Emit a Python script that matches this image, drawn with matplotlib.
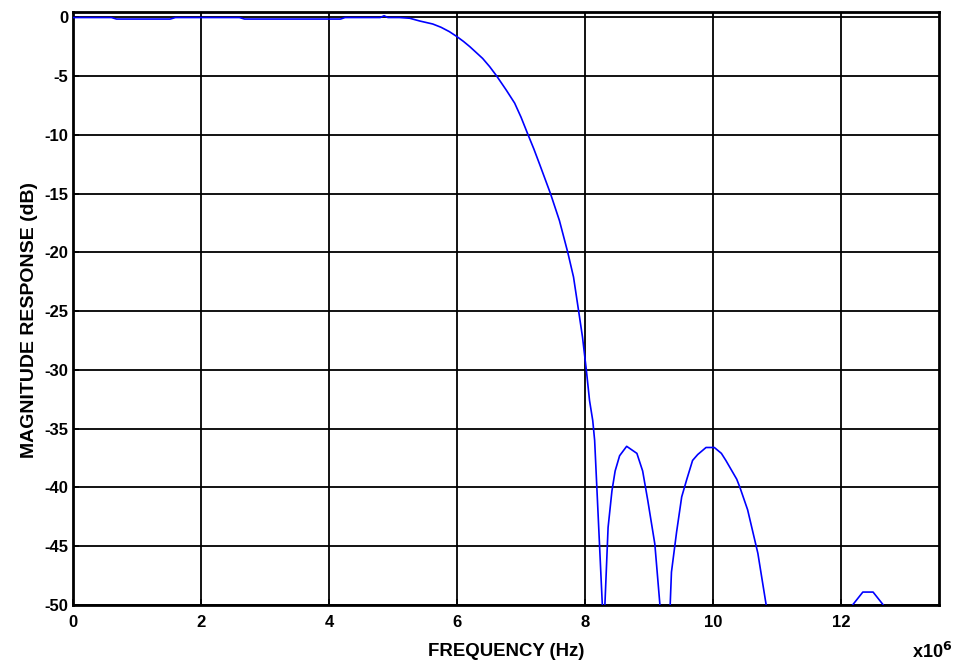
import matplotlib
matplotlib.use("Agg")
import matplotlib.pyplot as plt

# Frequency in units of 1e6 Hz, magnitude in dB
freq = [0.0, 0.60, 0.68, 1.52, 1.60, 2.60, 2.68, 4.18, 4.25, 4.80, 4.86, 4.92,
        5.10, 5.26, 5.42, 5.62, 5.75, 5.88, 6.00, 6.10, 6.20, 6.30, 6.40, 6.51,
        6.62, 6.77, 6.90, 7.00, 7.11, 7.20, 7.29, 7.46, 7.60, 7.73, 7.82, 7.90,
        7.96, 8.02, 8.07, 8.12, 8.15, 8.27, 8.285, 8.295, 8.31, 8.36, 8.42, 8.47,
        8.54, 8.65, 8.81, 8.90, 8.98, 9.09, 9.17, 9.25, 9.33, 9.35, 9.43, 9.51,
        9.59, 9.68, 9.76, 9.89, 10.02, 10.13, 10.20, 10.37, 10.42, 10.54, 10.70,
        10.83, 11.5, 12.18, 12.34, 12.50, 12.66, 13.0, 13.5]
mag_db = [-0.02, -0.02, -0.15, -0.15, -0.02, -0.02, -0.15, -0.15, -0.02, -0.02, 0.13, -0.02,
          -0.02, -0.08, -0.32, -0.57, -0.85, -1.22, -1.65, -2.05, -2.5, -3.0, -3.5, -4.2,
          -5.0, -6.2, -7.3, -8.5, -10.0, -11.2, -12.5, -15.0, -17.3, -20.0, -22.1, -25.0,
          -27.2, -30.0, -32.6, -34.3, -36.0, -50.0, -58.0, -58.0, -50.0, -43.4, -40.3, -38.6,
          -37.3, -36.5, -37.1, -38.6, -41.1, -44.8, -50.0, -60.0, -50.0, -47.2, -43.8, -40.8,
          -39.3, -37.7, -37.2, -36.6, -36.6, -37.1, -37.7, -39.3, -40.0, -41.9, -45.6,
          -50.0, -65.0, -50.0, -48.9, -48.9, -50.0, -60.0, -60.0]

xticks = [0, 2, 4, 6, 8, 10, 12]
yticks = [0, -5, -10, -15, -20, -25, -30, -35, -40, -45, -50]

plt.rcParams['font.family'] = ['Liberation Sans', 'DejaVu Sans']
plt.rcParams['font.weight'] = 'bold'

W, H = 956, 664
fig = plt.figure(figsize=(W / 100, H / 100), dpi=100)
ax = fig.add_axes([73 / W, 1 - 605 / H, (939 - 73) / W, (605 - 12) / H])

ax.plot(freq, mag_db, color='#0000ff', linewidth=1.2, zorder=3)

ax.set_xlim(0, 13.53)
ax.set_ylim(-50, 0.45)
ax.set_xticks(xticks)
ax.set_xticklabels([str(t) for t in xticks], fontsize=12, fontweight='bold')
ax.set_yticks(yticks)
ax.set_yticklabels([str(t) for t in yticks], fontsize=12, fontweight='bold')
ax.tick_params(direction='in', length=4, width=1.2)
ax.tick_params(axis='x', pad=7.5)
ax.tick_params(axis='y', pad=3.5)
ax.grid(True, color='black', linewidth=1.3)
ax.set_axisbelow(True)
for s in ax.spines.values():
    s.set_linewidth(2)

fig.text(506 / W, 1 - 651 / H, 'FREQUENCY (Hz)', ha='center', va='center',
         fontsize=13.4, fontweight='bold')
fig.text(30 / W, 1 - 320 / H, 'MAGNITUDE RESPONSE (dB)', ha='center', va='center',
         rotation=90, fontsize=14, fontweight='bold')
fig.text(912 / W, 1 - 658 / H, r'x10$^{\mathbf{6}}$', ha='left', va='baseline',
         fontsize=13, fontweight='bold')

fig.savefig('out.png', dpi=100)
